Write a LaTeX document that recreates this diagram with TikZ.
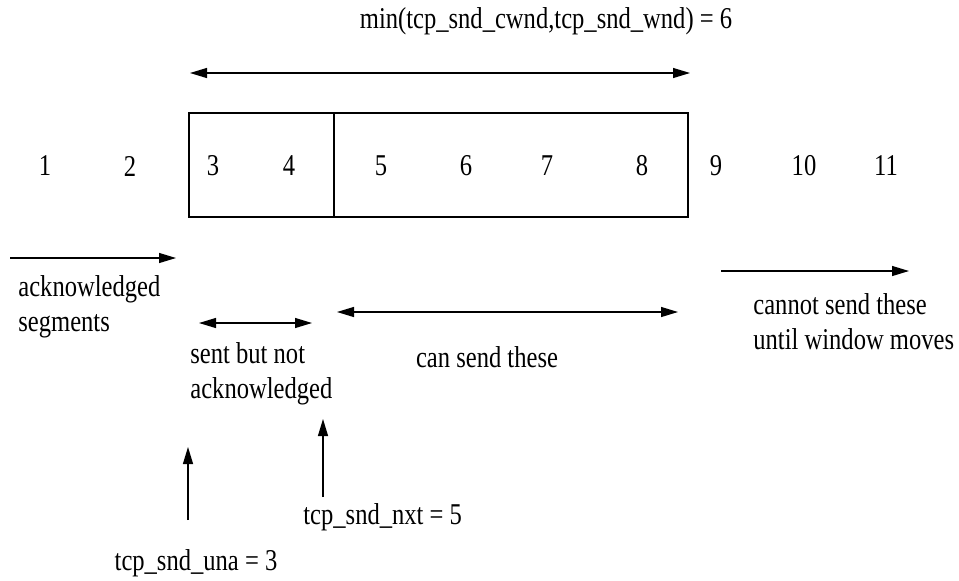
\documentclass[tikz,border=0pt]{standalone}
\usepackage{fontspec}
\setmainfont{Liberation Serif}
\usetikzlibrary{arrows.meta,calc}
\definecolor{LineClr}{rgb}{0,0,0}
\newcommand{\tall}[1]{\scalebox{0.96}[1.18]{#1}}

\tikzset{
  lbl/.style={inner sep=0pt,font=\fontsize{12.8}{17.5}\selectfont},
  lblL/.style={lbl,align=left,anchor=west},
  sarrow/.style={line width=0.6pt,color=LineClr,-{Triangle[length=8.5pt,width=5pt]}},
  darrow/.style={line width=0.6pt,color=LineClr,{Triangle[length=8.5pt,width=5pt]}-{Triangle[length=8.5pt,width=5pt]}}
}

\begin{document}
\begin{tikzpicture}[x=0.5pt,y=-0.5pt]
\useasboundingbox (0,0) rectangle (959,580);

% window box
\coordinate (WL) at (189,113);
\coordinate (WR) at (688,217);
\draw[line width=0.6pt] (WL) rectangle (WR);
\draw[line width=0.6pt] (334,113) -- (334,217);

% segment numbers
\foreach \n/\x in {1/45,2/130,3/213,4/289,5/381,6/466,7/547,8/642,9/716,10/804,11/886}
  \node[lbl] (s\n) at (\x,166) {\tall{\n}};

% usable window
\coordinate (MinA) at (190,73);
\coordinate (MinB) at (690,73);
\draw[darrow] (MinA) -- (MinB);
\node[lbl] (minlbl) at (546,21) {\tall{min(tcp\_snd\_cwnd,tcp\_snd\_wnd) = 6}};

% acknowledged
\coordinate (AckA) at (10,258);
\coordinate (AckB) at (176,258);
\draw[sarrow] (AckA) -- (AckB);
\node[lblL] (acklbl) at (18,307) {\tall{acknowledged}\\\tall{segments}};

% sent but not acknowledged
\coordinate (SentA) at (199,323);
\coordinate (SentB) at (312,323);
\draw[darrow] (SentA) -- (SentB);
\node[lblL] (sentlbl) at (190,374) {\tall{sent but not}\\\tall{acknowledged}};

% can send
\coordinate (CanA) at (337,312);
\coordinate (CanB) at (678,312);
\draw[darrow] (CanA) -- (CanB);
\node[lbl] (canlbl) at (487,357) {\tall{can send these}};

% cannot send
\coordinate (NotA) at (721,271);
\coordinate (NotB) at (909,271);
\draw[sarrow] (NotA) -- (NotB);
\node[lblL] (notlbl) at (753,322) {\tall{cannot send these}\\\tall{until window moves}};

% pointers
\node[lbl] (una) at (196,563) {\tall{tcp\_snd\_una = 3}};
\coordinate (UnaA) at (188,520);
\coordinate (UnaB) at (188,447);
\draw[sarrow] (UnaA) -- (UnaB);

\node[lbl,anchor=west] (nxt) at (303,517) {\tall{tcp\_snd\_nxt = 5}};
\coordinate (NxtA) at (323,497);
\coordinate (NxtB) at (323,419);
\draw[sarrow] (NxtA) -- (NxtB);

\end{tikzpicture}
\end{document}
